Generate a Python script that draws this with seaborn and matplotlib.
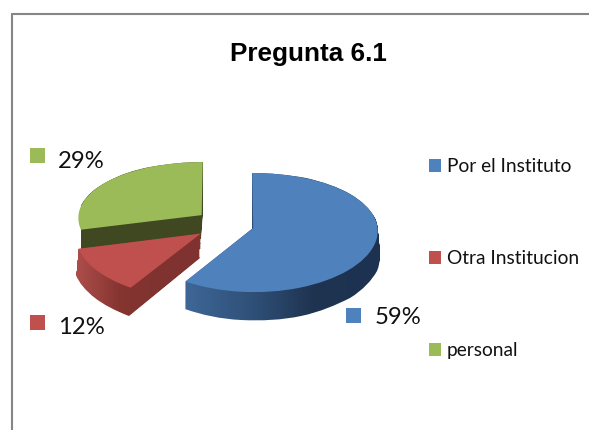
import numpy as np
import matplotlib
matplotlib.use("Agg")
import matplotlib.pyplot as plt
import seaborn as sns
from matplotlib.colors import LinearSegmentedColormap
from matplotlib.lines import Line2D
from matplotlib.patches import Rectangle
from matplotlib.path import Path
from matplotlib.transforms import Transform

categories = ["Por el Instituto", "Otra Institucion", "personal"]
values = [59, 12, 29]
explode = [0.22, 0.26, 0.26]
top_colors = ["#4f81bd", "#c0504d", "#9bbb59"]
wall_colors = [["#3d6595", "#2f5078", "#1e3350", "#1d3250"],
               ["#ab4c49", "#85342f", "#7f3230", "#7f3230"],
               ["#3f4820", "#3f4820", "#3f4820", "#3f4820"]]
label_px = [(375, 318), (58, 328), (58, 161)]
square_px = [(346, 308), (30, 315), (30, 148)]

sns.set_theme(style="white")
plt.rcParams["font.family"] = ["Lato", "DejaVu Sans"]

W, H = 589, 430
fig = plt.figure(figsize=(W / 100, H / 100), dpi=100, facecolor="white")
ax_top, ax_bottom, ax_left, ax_right = 120, 345, 60, 400
ax = fig.add_axes([ax_left / W, 1 - ax_bottom / H, (ax_right - ax_left) / W, (ax_bottom - ax_top) / H])

A, B, C = 4.5, 59.0, 224.4
RX, CX = 124.0, 227.0
DEPTH, LAYERS = 0.40, 28
TILT = 0.04


def forward(y):
    return B * np.asarray(y) - A * np.asarray(y) ** 2


def inverse(v):
    return (B - np.sqrt(np.maximum(B ** 2 - 4 * A * np.asarray(v), 0))) / (2 * A)


class Perspective(Transform):
    """Front of the tilted pie is nearer, so it is drawn a little wider."""
    input_dims = output_dims = 2
    is_affine = False

    def transform_non_affine(self, xy):
        xy = np.asarray(xy, dtype=float)
        return np.column_stack([xy[:, 0] * (1 - TILT * xy[:, 1]), xy[:, 1]])

    def transform_path_non_affine(self, path):
        return Path(self.transform_non_affine(path.vertices), path.codes)


persp = Perspective()
pie_kw = dict(explode=explode, startangle=90, counterclock=False, radius=1.0, normalize=True)

# Extruded walls: the same pie repeated at increasing depth, gathered per slice.
paths = [[] for _ in values]
for d in np.linspace(DEPTH, 0, LAYERS):
    layer, _ = ax.pie(values, center=(0, -d), colors=top_colors, **pie_kw)
    for i, w in enumerate(layer):
        paths[i].append(persp.transform_path(w.get_patch_transform().transform_path(w.get_path())))
        w.remove()

tops, _ = ax.pie(values, center=(0, 0), colors=top_colors, wedgeprops=dict(linewidth=0), **pie_kw)
for w in tops:
    w.set_transform(persp + ax.transData)

x_range_px = [(187, 378), (78, 202), (81, 210)]
left_margin = [0.3, 0.3, 0.0]
xlim = ((ax_left - CX) / RX, (ax_right - CX) / RX)
for order, i in enumerate([2, 1, 0]):
    x0, x1 = [(p - CX) / RX for p in x_range_px[i]]
    cmap = LinearSegmentedColormap.from_list("wall", wall_colors[i])
    xe = np.linspace(x0, x1, 121)
    xe[0] -= left_margin[i]
    xe[-1] += 0.3
    mesh = ax.pcolormesh(xe, [-2.0, 2.0], np.linspace(0, 1, 120)[None, :], cmap=cmap,
                         shading="flat", zorder=1 + 2 * order)
    mesh.set_clip_path(Path.make_compound_path(*paths[i]), ax.transData)
    tops[i].set_zorder(2 + 2 * order)

ax.set_aspect("auto")
ax.set_yscale("function", functions=(forward, inverse))
ax.set_xlim(*xlim)
ax.set_ylim(inverse(C - ax_bottom), inverse(C - ax_top))
ax.axis("off")

# Title and frame
fig.text(308 / W, 1 - 54 / H, "Pregunta 6.1", ha="center", va="center",
         fontsize=18.8, fontweight="bold", family="Liberation Sans", color="black")
for xs, ys in [((12, 12), (430, 14)), ((12, 589), (14, 14))]:
    fig.add_artist(Line2D([x / W for x in xs], [1 - y / H for y in ys], color="#868686", lw=1.5))

# Data labels with their keys
for v, (lx, ly), (sx, sy), c in zip(values, label_px, square_px, top_colors):
    fig.text(lx / W, 1 - ly / H, f"{v}%", ha="left", va="center", fontsize=17.2, color="#111111")
    fig.add_artist(Rectangle((sx / W, 1 - (sy + 15) / H), 15 / W, 15 / H, transform=fig.transFigure,
                             facecolor=c, edgecolor="none"))

# Legend
fig.legend(tops, categories, loc="upper left", bbox_to_anchor=(429 / W, 1 - 158 / H), frameon=False,
           fontsize=13.8, labelspacing=3.92, handlelength=0.63, handleheight=0.63, handletextpad=0.3,
           borderpad=0, borderaxespad=0, labelcolor="#111111")

fig.savefig("out.png", dpi=100, facecolor="white")
